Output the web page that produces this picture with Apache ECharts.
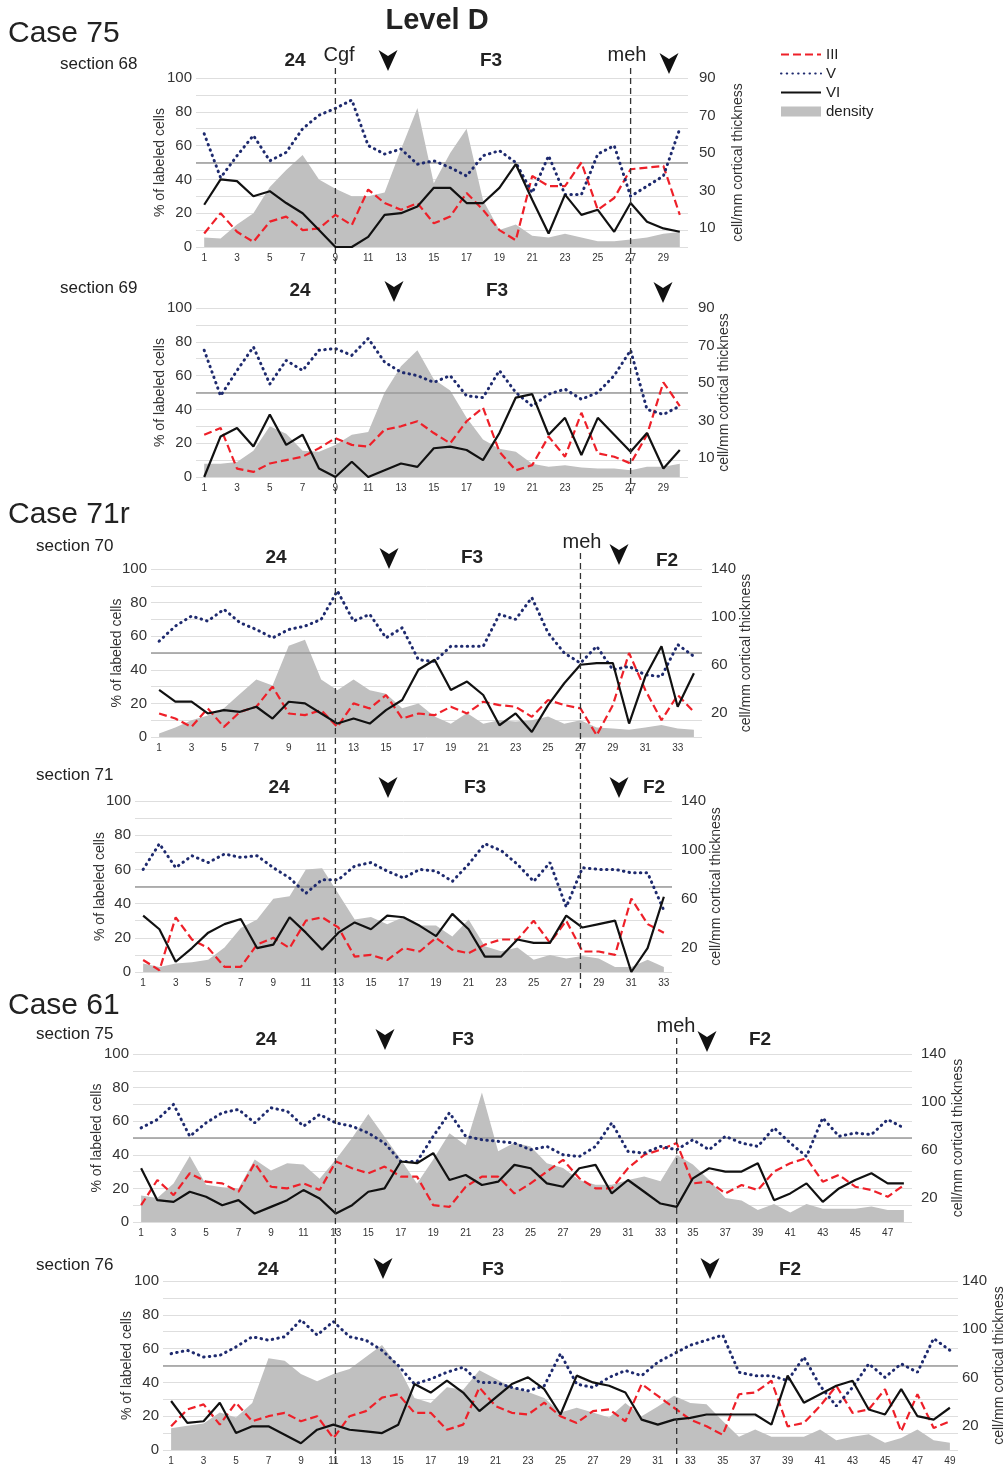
<!DOCTYPE html>
<html>
<head>
<meta charset="utf-8">
<script src="https://cdn.jsdelivr.net/npm/echarts@6/dist/echarts.min.js"></script>
<style>
  html, body { margin: 0; padding: 0; background: #fff; }
  #chart { width: 1007px; height: 1468px; }
</style>
</head>
<body>
<div id="chart"></div>
<script>
// ---- data (left axis: % of labeled cells, density: cell/mm cortical thickness) ----
const cat30 = Array.from({ length: 30 }, (_, i) => String(i + 1));
const cat33 = Array.from({ length: 33 }, (_, i) => String(i + 1));
const cat34 = Array.from({ length: 34 }, (_, i) => String(i + 1));
const cat48 = Array.from({ length: 48 }, (_, i) => String(i + 1));
const cat49 = Array.from({ length: 49 }, (_, i) => String(i + 1));

// Case 75, section 68
const s68_III = [8,20,9,3,15,18,10,11,19,13,34,26,22,26,14,18,32,22,10,4,42,36,36,50,22,29,46,47,48,19];
const s68_V   = [67,41,54,66,51,56,70,78,82,87,60,55,58,49,51,47,42,54,57,50,32,54,31,31,55,60,30,36,42,70];
const s68_VI  = [25,40,39,30,33,26,20,10,0,0,6,19,20,24,35,35,26,26,35,49,28,8,31,19,22,9,26,15,11,9];
const s68_density = [5,4.5,12,18,32,41,49,36,31,27,27,29,52,74,34,50,63,25,9,12,6,5,7,5,3,3,4,5,7,8];

// Case 75, section 69
const s69_III = [25,29,5,3,8,10,12,17,23,19,18,28,30,33,26,20,33,41,15,4,7,24,12,38,14,12,8,25,56,42];
const s69_V   = [75,48,63,77,55,69,63,75,76,72,82,68,62,60,56,60,48,47,63,50,42,49,52,46,50,60,75,40,37,42];
const s69_VI  = [0,24,29,18,37,19,25,5,0,9,0,4,8,6,17,18,16,10,26,47,49,25,35,13,35,25,15,26,5,16];
const s69_density = [7,7,8,14,27,23,14,13.5,17,22.5,24,45,59,67.5,52,46,31.5,20,15,13.5,7,5.4,6.3,5,4.5,4.5,3.6,5.4,5.4,7];

// Case 71r, section 70
const s70_III = [14,11,6,17,6,15,18,30,14,13,16,6,20,17,25,11,14,13,18,14,21,19,18,12,22,19,17,1,19,50,28,10,25,15];
const s70_V   = [57,66,72,69,76,68,64,59,64,66,70,87,69,73,59,65,46,45,54,54,54,73,70,83,62,50,44,54,40,42,37,36,55,48];
const s70_VI  = [28,21,21,14,16,15,18,11,21,20,14,8,11,8,16,22,40,46,28,33,25,7,14,3,19,32,43,44,44,8,36,54,18,38];
const s70_density = [3,8,14,18,24,36,48,43,76,81,48,39,48,39,36,24,28,17,11,20,11,14,13,14,17,11,14,8,7,6,8,10,7,6];

// Case 71r, section 71
const s71_III = [7,1,32,19,14,3,3,16,20,14,30,32,26,9,10,7,14,12,20,13,11,16,19,19,30,17,30,12,12,10,43,28,23];
const s71_V   = [60,75,61,68,64,69,67,68,61,55,46,54,54,62,64,59,55,60,59,53,63,75,71,63,53,64,38,61,60,60,58,58,36];
const s71_VI  = [33,25,6,14,23,28,31,14,16,32,23,13,23,29,25,33,32,27,21,34,25,9,9,19,17,17,33,26,28,30,0,14,44];
const s71_density = [7,4,7,8,10,20,36,43,60,62,84,85,64,43,45,39,45,38,38,29,43,21,17,20,10,14,11,13,11,4,4,10,4];

// Case 61, section 75
const s75_III = [10,25,16,29,24,23,18,35,21,20,23,19,36,32,29,33,27,27,10,9,21,27,27,17,23,30,37,26,20,20,32,40,43,47,23,24,17,22,19,30,35,38,24,28,21,19,15,22];
const s75_V   = [56,61,70,51,59,65,67,59,68,66,57,64,59,57,53,47,36,36,51,65,51,49,48,47,43,45,40,39,45,59,42,41,45,43,49,43,51,47,45,56,47,39,62,51,53,52,61,56];
const s75_VI  = [32,13,12,18,15,10,13,5,9,13,19,14,5,10,18,20,36,35,41,25,28,22,24,34,32,23,21,32,34,17,25,18,11,9,26,32,30,30,35,13,17,23,12,20,25,29,23,23];
const s75_density = [22,20,32,55,31,29,28,52,43,49,48,36,52,70,90,71,52,32,52,74,64,108,59,66,63,49,45,35,31,31,35,38,34,56,48,35,20,18,10,15,8,15,11,11,11,13,10,10];

// Case 61, section 76
const s76_III = [14,24,27,15,28,17,20,22,17,20,7,20,23,31,33,22,22,12,15,37,26,22,21,28,20,16,23,24,17,39,32,25,18,14,9,33,34,41,14,16,26,38,22,24,36,11,33,13,17];
const s76_V   = [57,59,55,56,61,67,65,67,77,68,76,67,65,59,50,39,42,46,49,40,40,37,35,38,57,39,37,43,47,44,52,57,62,65,68,46,44,44,41,55,38,26,37,51,43,51,46,66,59];
const s76_VI  = [29,16,17,28,10,14,14,9,4,12,15,12,11,10,15,39,34,41,34,23,31,39,43,36,21,44,40,38,34,18,15,18,19,21,21,21,21,15,44,28,33,38,41,24,21,36,20,18,25];
const s76_density = [18,20,22,31,27,39,76,74,63,57,63,67,77,87,69,43,39,52,50,66,59,52,48,43,31,35,31,27,39,28,36,45,39,38,24,11,17,11,11,11,17,8,11,13,6,10,17,8,6];

// ---- layout ----
const FONT = '"Liberation Sans", Arial, sans-serif';
const panels = [
  { cats: cat30, iii: s68_III, v: s68_V, vi: s68_VI, den: s68_density, rMax: 90, rStep: 10, rMod: [20, 10],
    grid: { left: 196, top: 78, width: 492, height: 169 }, lGap: 29, rGap: 43, rMargin: 11 },
  { cats: cat30, iii: s69_III, v: s69_V, vi: s69_VI, den: s69_density, rMax: 90, rStep: 10, rMod: [20, 10],
    grid: { left: 196, top: 308, width: 492, height: 169 }, lGap: 29, rGap: 29, rMargin: 10 },
  { cats: cat34, iii: s70_III, v: s70_V, vi: s70_VI, den: s70_density, rMax: 140, rStep: 20, rMod: [40, 20],
    grid: { left: 151, top: 569, width: 551, height: 168 }, lGap: 27, rGap: 37, rMargin: 9 },
  { cats: cat33, iii: s71_III, v: s71_V, vi: s71_VI, den: s71_density, rMax: 140, rStep: 20, rMod: [40, 20],
    grid: { left: 135, top: 801, width: 537, height: 171 }, lGap: 28, rGap: 37, rMargin: 9 },
  { cats: cat48, iii: s75_III, v: s75_V, vi: s75_VI, den: s75_density, rMax: 140, rStep: 20, rMod: [40, 20],
    grid: { left: 133, top: 1054, width: 779, height: 168 }, lGap: 29, rGap: 39, rMargin: 9 },
  { cats: cat49, iii: s76_III, v: s76_V, vi: s76_VI, den: s76_density, rMax: 140, rStep: 20, rMod: [40, 20],
    grid: { left: 163, top: 1281, width: 795, height: 169 }, lGap: 29, rGap: 34, rMargin: 4 }
];

const grids = [], xAxes = [], yAxes = [], series = [];
panels.forEach((p, i) => {
  grids.push(Object.assign({ outerBoundsMode: 'none', containLabel: false }, p.grid));
  xAxes.push({
    type: 'category', gridIndex: i, data: p.cats, boundaryGap: true,
    axisLine: { show: false }, axisTick: { show: false },
    axisLabel: { interval: 1, fontSize: 10, color: '#333', margin: 6, fontFamily: FONT }
  });
  yAxes.push({
    type: 'value', gridIndex: i, min: 0, max: 100, interval: 10, position: 'left',
    name: '% of labeled cells', nameLocation: 'middle', nameGap: p.lGap, nameRotate: 90,
    nameMoveOverlap: false,
    nameTextStyle: { fontSize: 14, color: '#333', fontFamily: FONT },
    axisLine: { show: false }, axisTick: { show: false },
    axisLabel: { fontSize: 15, color: '#333', margin: 4, fontFamily: FONT,
      formatter: v => (v % 20 === 0 ? String(v) : '') },
    splitLine: { lineStyle: { color: '#dedede', width: 1 } }
  });
  yAxes.push({
    type: 'value', gridIndex: i, min: 0, max: p.rMax, interval: p.rStep, position: 'right',
    name: 'cell/mm cortical thickness', nameLocation: 'middle', nameGap: p.rGap, nameRotate: 90,
    nameMoveOverlap: false,
    nameTextStyle: { fontSize: 14, color: '#333', fontFamily: FONT },
    axisLine: { show: false }, axisTick: { show: false },
    axisLabel: { fontSize: 15, color: '#333', margin: p.rMargin, fontFamily: FONT,
      formatter: v => (v % p.rMod[0] === p.rMod[1] ? String(v) : '') },
    splitLine: { show: false }
  });
  series.push({
    name: 'density', type: 'line', xAxisIndex: i, yAxisIndex: 2 * i + 1, data: p.den,
    symbol: 'none', lineStyle: { width: 0 }, itemStyle: { color: '#c0c0c0' },
    areaStyle: { color: '#c0c0c0', opacity: 1 }, z: 1
  });
  series.push({
    name: 'III', type: 'line', xAxisIndex: i, yAxisIndex: 2 * i, data: p.iii,
    symbol: 'none', itemStyle: { color: '#ee2029' },
    lineStyle: { color: '#ee2029', width: 2.2, type: [8, 4] }, z: 3,
    // 50 % reference line
    markLine: { silent: true, symbol: 'none', label: { show: false }, z: 2,
      lineStyle: { color: '#9a9a9a', width: 1.5, type: 'solid' },
      data: [{ yAxis: 50 }] }
  });
  series.push({
    name: 'V', type: 'line', xAxisIndex: i, yAxisIndex: 2 * i, data: p.v,
    symbol: 'none', itemStyle: { color: '#1e2a6e' },
    lineStyle: { color: '#1e2a6e', width: 3, type: [0.5, 5.2], cap: 'round' }, z: 4
  });
  series.push({
    name: 'VI', type: 'line', xAxisIndex: i, yAxisIndex: 2 * i, data: p.vi,
    symbol: 'none', itemStyle: { color: '#111' },
    lineStyle: { color: '#111', width: 2.2 }, z: 5
  });
});

function txt(x, y, text, font, align) {
  return { type: 'text', x: x, y: y, z: 50,
    style: { text: text, font: font, fill: '#222', align: align || 'center', verticalAlign: 'middle' } };
}
function arrow(x, y) {
  return { type: 'polygon', x: x, y: y, z: 50,
    shape: { points: [[-9.5, 0], [0, 6], [9.5, 0], [0, 21]] }, style: { fill: '#111' } };
}
const BIG = '30px ' + FONT, SEC = '17px ' + FONT, LAB = 'bold 19px ' + FONT, NAME = '20px ' + FONT;

const labels = [
  txt(8, 34, 'Case 75', BIG, 'left'),
  txt(437, 21, 'Level D', 'bold 29px ' + FONT),
  txt(60, 64, 'section 68', SEC, 'left'),
  txt(295, 61, '24', LAB), txt(339, 55, 'Cgf', NAME), arrow(388, 50), txt(491, 61, 'F3', LAB),
  txt(627, 55, 'meh', NAME), arrow(669, 53),
  txt(60, 288, 'section 69', SEC, 'left'),
  txt(300, 291, '24', LAB), arrow(394, 281), txt(497, 291, 'F3', LAB), arrow(663, 282),
  txt(8, 515, 'Case 71r', BIG, 'left'),
  txt(36, 546, 'section 70', SEC, 'left'),
  txt(276, 558, '24', LAB), arrow(389, 548), txt(472, 558, 'F3', LAB),
  txt(582, 542, 'meh', NAME), arrow(619, 544), txt(667, 561, 'F2', LAB),
  txt(36, 775, 'section 71', SEC, 'left'),
  txt(279, 788, '24', LAB), arrow(388, 777), txt(475, 788, 'F3', LAB), arrow(619, 777), txt(654, 788, 'F2', LAB),
  txt(8, 1006, 'Case 61', BIG, 'left'),
  txt(36, 1034, 'section 75', SEC, 'left'),
  txt(266, 1040, '24', LAB), arrow(385, 1029), txt(463, 1040, 'F3', LAB),
  txt(676, 1026, 'meh', NAME), arrow(707, 1031), txt(760, 1040, 'F2', LAB),
  txt(36, 1265, 'section 76', SEC, 'left'),
  txt(268, 1270, '24', LAB), arrow(383, 1258), txt(493, 1270, 'F3', LAB), arrow(710, 1258), txt(790, 1270, 'F2', LAB)
];

const chart = echarts.init(document.getElementById('chart'), null, { renderer: 'canvas' });
chart.setOption({
  animation: false,
  backgroundColor: '#fff',
  textStyle: { fontFamily: FONT },
  legend: {
    left: 775, top: 42, orient: 'vertical', itemWidth: 40, itemHeight: 10, itemGap: 4,
    textStyle: { fontSize: 15, color: '#222', fontFamily: FONT },
    itemStyle: { opacity: 0 },   // hide the marker dot on line icons
    data: [{ name: 'III' }, { name: 'V' }, { name: 'VI' },
      { name: 'density', icon: 'rect', itemStyle: { opacity: 1, color: '#c0c0c0' } }]
  },
  grid: grids,
  xAxis: xAxes,
  yAxis: yAxes,
  series: series,
  graphic: labels
});

// long vertical dashed boundary lines, placed at category positions
function xAt(panelIdx, catIdx) {
  return chart.convertToPixel({ xAxisIndex: panelIdx }, catIdx);
}
function vline(x, y1, y2) {
  return { type: 'line', z: 40, shape: { x1: x, y1: y1, x2: x, y2: y2 },
    style: { stroke: '#333', lineWidth: 1.3, lineDash: [6, 4] } };
}
const xCgf = xAt(0, 8);
const xMeh1 = xAt(0, 26);
const xMeh2 = xAt(2, 26);
const xMeh3 = xAt(4, 33);
chart.setOption({
  graphic: labels.concat([
    vline(xCgf, 68, 1468),
    vline(xMeh1, 68, 496),
    vline(xMeh2, 553, 988),
    vline(xMeh3, 1038, 1468)
  ])
});
</script>
</body>
